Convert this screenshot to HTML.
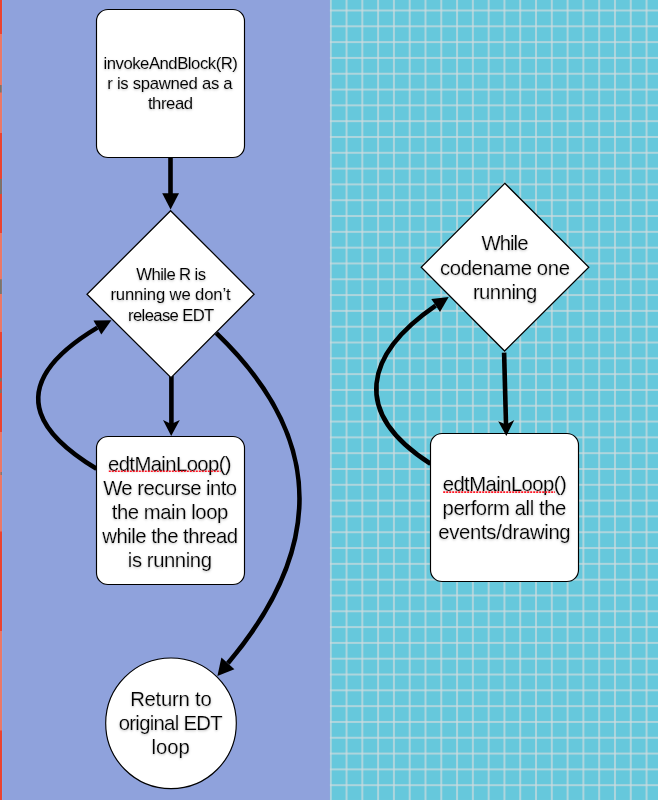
<!DOCTYPE html>
<html lang="en">
<head>
<meta charset="utf-8">
<title>EDT invokeAndBlock flow</title>
<style>
html,body{margin:0;padding:0;}
body{width:658px;height:800px;overflow:hidden;position:relative;background:#8fa2dc;font-family:"Liberation Sans",sans-serif;}
svg{position:absolute;left:0;top:0;display:block;}
.t{position:absolute;left:0;top:0;width:658px;height:0;will-change:transform;}
.t p{position:absolute;margin:0;padding:0;white-space:pre;color:#000;text-shadow:0 1px 2.5px rgba(0,0,0,.25);-webkit-text-stroke:0.15px #fff;}
.s{font-size:16.7px;line-height:20px;}
.t .s{-webkit-text-stroke-width:0.05px;}
.l{font-size:20.3px;line-height:24px;}
</style>
</head>
<body>
<svg width="658" height="800" viewBox="0 0 658 800">
  <defs>
    <pattern id="grid" x="322.855" y="2.595" width="15.79" height="15.81" patternUnits="userSpaceOnUse">
      <rect x="0" y="0" width="15.79" height="15.81" fill="#66c8dc"/>
      <g fill="#cfdcdf">
        <rect x="6.895" y="0" width="2.0" height="15.81" opacity="0.27"/>
        <rect x="0" y="6.905" width="15.79" height="2.0" opacity="0.27"/>
        <rect x="7.345" y="0" width="1.1" height="15.81"/>
        <rect x="0" y="7.355" width="15.79" height="1.1"/>
      </g>
    </pattern>
  </defs>
  <rect x="0" y="0" width="330" height="800" fill="#8fa2dc"/>
  <rect x="329.9" y="0" width="328.1" height="800" fill="url(#grid)"/>
  <!-- left sliver -->
  <g>
    <rect x="0" y="0" width="2" height="800" fill="#ea4331"/>
    <g fill="#ea7868">
      <rect x="0" y="34" width="2" height="99"/>
      <rect x="0" y="233" width="2" height="99"/>
      <rect x="0" y="432" width="2" height="99.5"/>
      <rect x="0" y="631" width="2" height="99.5"/>
    </g>
    <g fill="#74766f">
      <rect x="0" y="85" width="1.6" height="7.5"/>
      <rect x="0" y="179" width="1.8" height="15"/>
      <rect x="0" y="279.3" width="1.8" height="14.7"/>
      <rect x="0" y="378" width="1.6" height="3.5"/>
      <rect x="0" y="389.5" width="1.6" height="3.5"/>
      <rect x="0.6" y="472" width="1.2" height="3"/>
    </g>
    <rect x="2" y="0" width="1" height="800" fill="#8aa9e6"/>
  </g>

  <!-- arrows -->
  <g fill="none" stroke="#000" stroke-width="4.6">
    <path d="M170.5,157 L170.5,196"/>
    <path d="M171.4,376 L171.4,426"/>
    <path d="M504.1,352.6 L506.05,426"/>
    <path d="M96.5,468.8 C54.4,443.4 -10.7,392.5 97.4,327.6"/>
    <path d="M430.5,463.7 C350.3,412.4 365.1,354.1 435.6,305.6"/>
    <path d="M216.4,333.2 C278.8,393.2 361.3,504.9 227.9,663.3"/>
  </g>
  <g fill="#000" stroke="none">
    <polygon points="162.2,193.2 179,193.2 170.6,209.6"/>
    <polygon points="171.2,436 163,420 171.2,424 179.8,420"/>
    <polygon points="111.4,320.2 93.5,320.6 101.3,334.5"/>
    <polygon points="448.7,297.0 431.3,299.1 440.0,312.0"/>
    <polygon points="217.4,675.9 221.4,657.4 234.4,669.2"/>
  </g>

  <!-- shapes -->
  <g fill="#fff" stroke="#000" stroke-width="1.15">
    <rect x="96.5" y="9.5" width="148" height="148" rx="11.5" ry="11.5"/>
    <polygon points="170.6,210.7 254.1,294.2 171,377.7 87,294.2" stroke-width="1.25"/>
    <rect x="96.5" y="436.5" width="148" height="148" rx="11.5" ry="11.5"/>
    <circle cx="171" cy="723.3" r="65.3"/>
    <polygon points="504.8,183.3 588.8,267.3 504.6,351 421.2,267.3" stroke-width="1.25"/>
    <rect x="430.5" y="433.5" width="148" height="148" rx="11.5" ry="11.5"/>
  </g>
  <!-- arrow tip drawn over box -->
  <polygon points="506.3,436 498.2,421.2 506,424.6 514.3,420.1" fill="#000"/>
</svg>
<div class="t" id="t1">
<p class="s" style="left:103.45px;top:53.82px;letter-spacing:-0.464px">invokeAndBlock(R)</p>
<p class="s" style="left:107.25px;top:73.60px;letter-spacing:-0.281px">r is spawned as a</p>
<p class="s" style="left:147.95px;top:93.60px;letter-spacing:-0.450px">thread</p>
</div>
<div class="t" id="t2">
<p class="s" style="left:136.35px;top:265.10px;letter-spacing:-0.600px">While R is</p>
<p class="s" style="left:110.45px;top:285.32px;letter-spacing:-0.150px">running we don&#8217;t</p>
<p class="s" style="left:128.05px;top:305.60px;letter-spacing:-0.653px">release EDT</p>
</div>
<div class="t" id="t3">
<p class="l" style="left:108.00px;top:451.50px;letter-spacing:-0.600px">edtMainLoop()</p>
<p class="l" style="left:103.15px;top:475.60px;letter-spacing:-0.546px">We recurse into</p>
<p class="l" style="left:111.70px;top:499.72px;letter-spacing:-0.431px">the main loop</p>
<p class="l" style="left:102.35px;top:523.82px;letter-spacing:-0.495px">while the thread</p>
<p class="l" style="left:127.80px;top:547.90px;letter-spacing:-0.425px">is running</p>
</div>
<div class="t" id="t4">
<p class="l" style="left:130.15px;top:686.90px;letter-spacing:-0.225px">Return to</p>
<p class="l" style="left:118.70px;top:710.82px;letter-spacing:-0.695px">original EDT</p>
<p class="l" style="left:151.50px;top:735.22px;letter-spacing:0.000px">loop</p>
</div>
<div class="t" id="t5">
<p class="l" style="left:481.55px;top:230.90px;letter-spacing:-0.956px">While</p>
<p class="l" style="left:440.00px;top:255.50px;letter-spacing:-0.389px">codename one</p>
<p class="l" style="left:472.90px;top:279.60px;letter-spacing:-0.525px">running</p>
</div>
<div class="t" id="t6">
<p class="l" style="left:442.70px;top:472.22px;letter-spacing:-0.563px">edtMainLoop()</p>
<p class="l" style="left:442.60px;top:496.32px;letter-spacing:-0.418px">perform all the</p>
<p class="l" style="left:438.30px;top:520.40px;letter-spacing:-0.312px">events/drawing</p>
</div>
<svg width="658" height="800" viewBox="0 0 658 800" style="pointer-events:none">
  <!-- spell-check underlines -->
  <g fill="none" stroke="#ff1422" stroke-width="1.6" stroke-dasharray="2 1">
    <path d="M108.8,471.3 H220.6"/>
    <path d="M443.2,492.1 H555"/>
  </g>
</svg>
</body>
</html>
